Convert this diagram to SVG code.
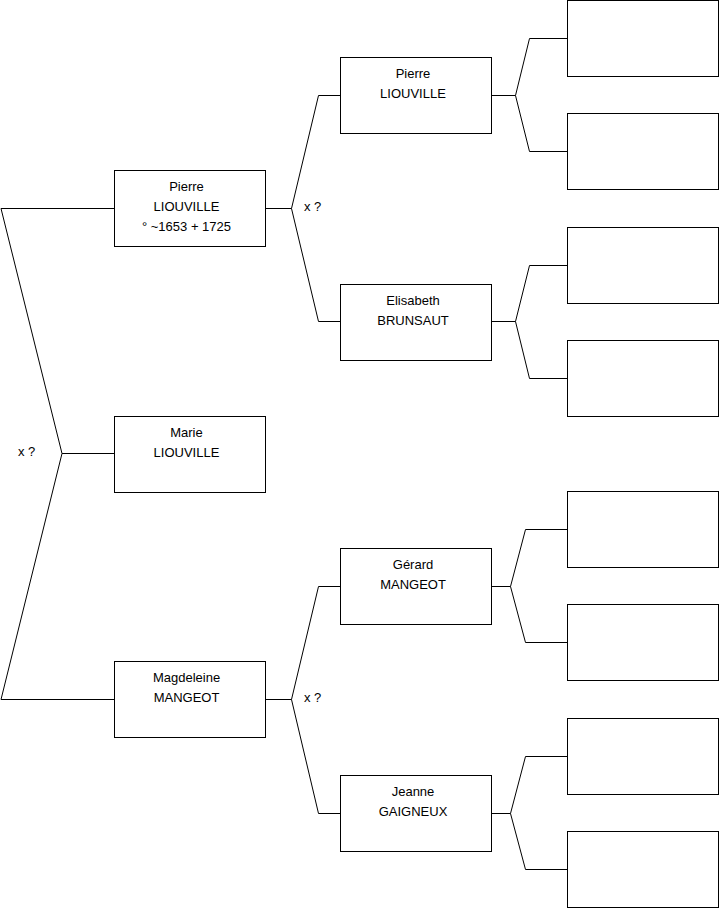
<svg xmlns="http://www.w3.org/2000/svg" width="719" height="908" viewBox="0 0 719 908">
<style>
.box{fill:#fff;stroke:#000;stroke-width:1}
.c{fill:none;stroke:#000;stroke-width:1}
text{font-family:"Liberation Sans",Arial,sans-serif;font-size:13px;fill:#000}
.t{text-anchor:middle}
</style>
<rect width="719" height="908" fill="#fff"/>
<g id="connectors">
<polyline class="c" points="114,208.5 1,208.5 62,453.5 1,699.5 114,699.5"/>
<polyline class="c" points="62,453.5 114,453.5"/>
<polyline class="c" points="265,208.5 291.5,208.5 318.5,95.5 340,95.5"/>
<polyline class="c" points="291.5,208.5 318.5,321.5 340,321.5"/>
<polyline class="c" points="265,699.5 291.5,699.5 318.5,586.5 340,586.5"/>
<polyline class="c" points="291.5,699.5 318.5,813.5 340,813.5"/>
<polyline class="c" points="491,95.5 515.5,95.5 529.5,38.5 567,38.5"/>
<polyline class="c" points="515.5,95.5 529.5,151.5 567,151.5"/>
<polyline class="c" points="491,321.5 515.5,321.5 529.5,265.5 567,265.5"/>
<polyline class="c" points="515.5,321.5 529.5,378.5 567,378.5"/>
<polyline class="c" points="491,586.5 510.5,586.5 525.5,529.5 567,529.5"/>
<polyline class="c" points="510.5,586.5 525.5,642.5 567,642.5"/>
<polyline class="c" points="491,813.5 510.5,813.5 525.5,756.5 567,756.5"/>
<polyline class="c" points="510.5,813.5 525.5,869.5 567,869.5"/>
</g>
<g id="labels">
<text x="18" y="456">x ?</text>
<text x="304" y="211">x ?</text>
<text x="304" y="702">x ?</text>
</g>
<g id="n-pierre1">
<rect class="box" x="114.5" y="170.5" width="151" height="76"/>
<text class="t" x="186.5" y="191">Pierre</text>
<text class="t" x="186.5" y="211">LIOUVILLE</text>
<text class="t" x="186.5" y="231">° ~1653 + 1725</text>
</g>
<g id="n-marie">
<rect class="box" x="114.5" y="416.5" width="151" height="76"/>
<text class="t" x="186.5" y="437">Marie</text>
<text class="t" x="186.5" y="457">LIOUVILLE</text>
</g>
<g id="n-magdeleine">
<rect class="box" x="114.5" y="661.5" width="151" height="76"/>
<text class="t" x="186.5" y="682">Magdeleine</text>
<text class="t" x="186.5" y="702">MANGEOT</text>
</g>
<g id="n-pierre2">
<rect class="box" x="340.5" y="57.5" width="151" height="76"/>
<text class="t" x="413" y="78">Pierre</text>
<text class="t" x="413" y="98">LIOUVILLE</text>
</g>
<g id="n-elisabeth">
<rect class="box" x="340.5" y="284.5" width="151" height="76"/>
<text class="t" x="413" y="305">Elisabeth</text>
<text class="t" x="413" y="325">BRUNSAUT</text>
</g>
<g id="n-gerard">
<rect class="box" x="340.5" y="548.5" width="151" height="76"/>
<text class="t" x="413" y="569">Gérard</text>
<text class="t" x="413" y="589">MANGEOT</text>
</g>
<g id="n-jeanne">
<rect class="box" x="340.5" y="775.5" width="151" height="76"/>
<text class="t" x="413" y="796">Jeanne</text>
<text class="t" x="413" y="816">GAIGNEUX</text>
</g>
<g id="n-e1"><rect class="box" x="567.5" y="0.5" width="151" height="76"/></g>
<g id="n-e2"><rect class="box" x="567.5" y="113.5" width="151" height="76"/></g>
<g id="n-e3"><rect class="box" x="567.5" y="227.5" width="151" height="76"/></g>
<g id="n-e4"><rect class="box" x="567.5" y="340.5" width="151" height="76"/></g>
<g id="n-e5"><rect class="box" x="567.5" y="491.5" width="151" height="76"/></g>
<g id="n-e6"><rect class="box" x="567.5" y="604.5" width="151" height="76"/></g>
<g id="n-e7"><rect class="box" x="567.5" y="718.5" width="151" height="76"/></g>
<g id="n-e8"><rect class="box" x="567.5" y="831.5" width="151" height="76"/></g>
</svg>
